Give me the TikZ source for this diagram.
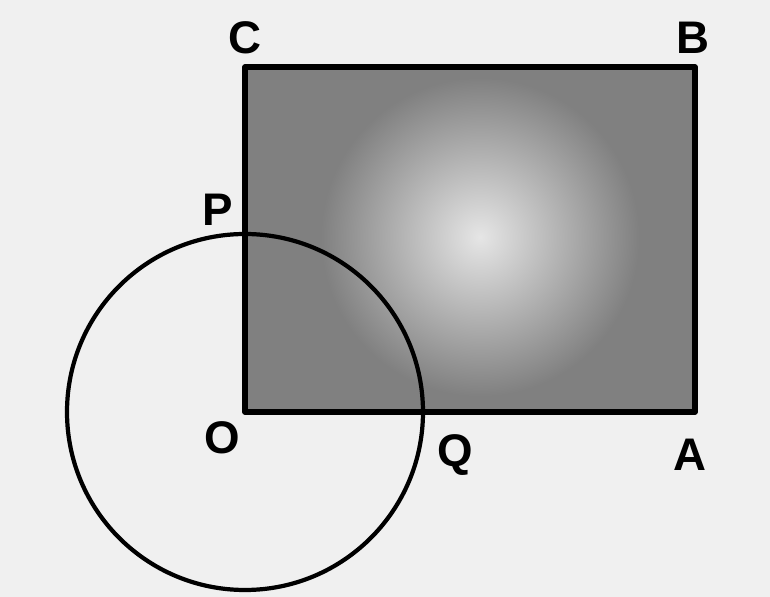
\documentclass[tikz,border=0pt]{standalone}
\usepackage{fontspec}
\setmainfont{Liberation Sans}
\begin{document}
\begin{tikzpicture}[line join=round, line cap=round,
    lbl/.style={font=\fontsize{13}{13}\selectfont\bfseries, inner sep=0pt}]
  % frame
  \fill[black!6] (0,0) rectangle (7.7,5.97);
  \useasboundingbox (0,0) rectangle (7.7,5.97);
  \def\r{1.78}
  \coordinate (O) at (2.45,1.85);
  \coordinate (A) at (6.95,1.85);
  \coordinate (B) at (6.95,5.30);
  \coordinate (C) at (2.45,5.30);
  \coordinate (P) at (2.45,1.85+\r);
  \coordinate (Q) at (2.45+\r,1.85);
  % shaded plate
  \begin{scope}
    \clip (O) rectangle (B);
    \fill[black!50] (O) rectangle (B);
    \shade[inner color=black!10, outer color=black!50] (3.2,2.0) rectangle (6.4,5.2);
  \end{scope}
  \draw[line width=1.5pt] (O) -- (A) -- (B) -- (C) -- cycle;
  \draw[line width=1.2pt] (O) circle (\r);
  % labels
  \node[lbl] at (2.45,5.59) {C};
  \node[lbl] at (6.93,5.59) {B};
  \node[lbl] at (2.18,3.87) {P};
  \node[lbl] at (2.22,1.59) {O};
  \node[lbl] at (4.55,1.42) {Q};
  \node[lbl] at (6.90,1.42) {A};
\end{tikzpicture}
\end{document}
